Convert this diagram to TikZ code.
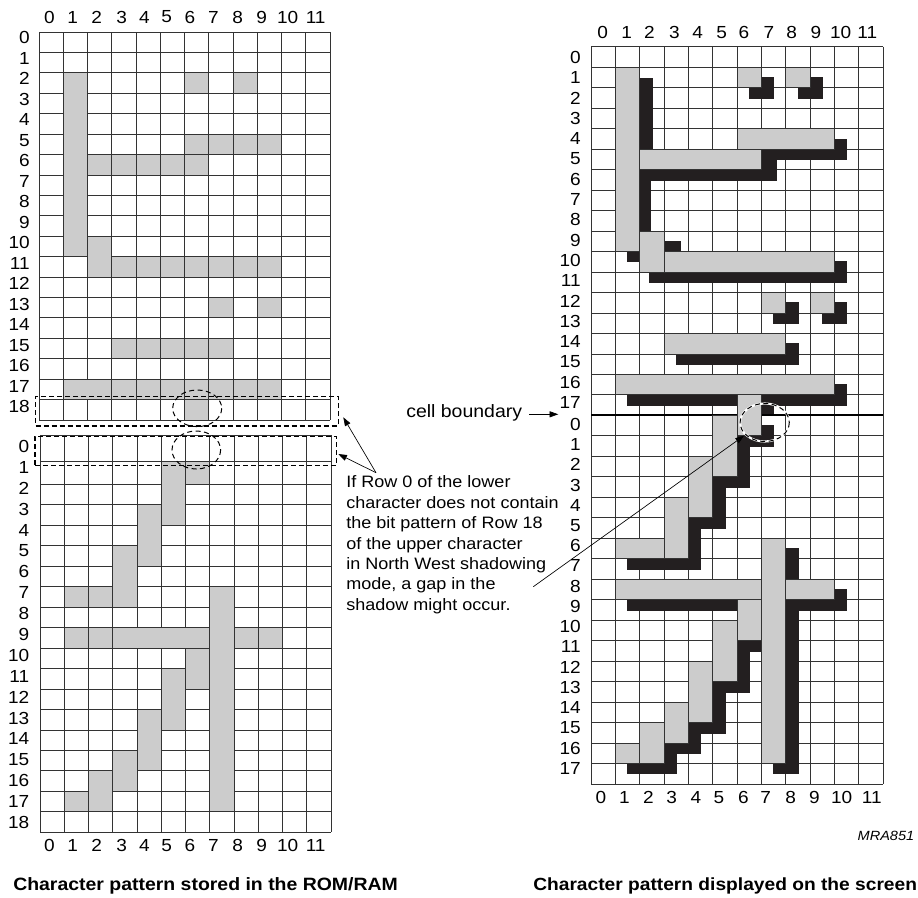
\documentclass[tikz,border=0pt]{standalone}
\usepackage{fontspec}
\setmainfont[FakeStretch=1.09]{Liberation Sans}
\usepackage{xcolor}
\usetikzlibrary{arrows.meta}
\definecolor{litgrey}{HTML}{CCCCCC}
\definecolor{shadowblack}{HTML}{231F20}
\definecolor{gridgrey}{HTML}{333333}

\begin{document}
\begin{tikzpicture}[
    x=0.75pt, y=-0.75pt,
    gridline/.style={draw=gridgrey, line width=0.6pt},
    lit/.style={fill=litgrey, draw=gridgrey, line width=0.6pt},
    shadow/.style={fill=shadowblack, draw=shadowblack, line width=0.4pt},
    rowlabel/.style={anchor=east, inner sep=0pt, font=\fontsize{13.1}{15}\selectfont},
    collabel/.style={inner sep=0pt, font=\fontsize{13.1}{15}\selectfont},
    note/.style={inner sep=0pt, align=left, font=\fontsize{12.4}{15.3}\selectfont},
    caption/.style={anchor=base west, inner sep=0pt, font=\fontsize{13.38}{15}\selectfont\bfseries},
    rowbox/.style={draw, dash pattern=on 3.75pt off 2.25pt, line width=0.9pt, inner sep=0pt, anchor=north west},
    ring/.style={draw, dash pattern=on 3.75pt off 2.6pt, line width=0.75pt},
    arrow/.style={-{Triangle[length=6.5pt,width=4.5pt]}, line width=0.5pt}
]
\useasboundingbox (0,0) rectangle (918,897);

% stored pattern, upper character
\begin{scope}[shift={(39,32)}, x=18.19pt, y=-15.315pt]
\foreach \r in {0,...,19} \draw[gridline] (0,\r) -- (12,\r);
\foreach \c in {0,...,12} \draw[gridline] (\c,0) -- (\c,19);
\foreach \xa/\ya/\xb/\yb in {1/2/2/11, 6/2/7/3, 8/2/9/3, 6/5/7/6, 7/5/8/6, 8/5/9/6, 9/5/10/6,
    2/6/3/7, 3/6/4/7, 4/6/5/7, 5/6/6/7, 6/6/7/7, 2/10/3/12, 3/11/4/12, 4/11/5/12, 5/11/6/12,
    6/11/7/12, 7/11/8/12, 8/11/9/12, 9/11/10/12, 7/13/8/14, 9/13/10/14, 3/15/4/16, 4/15/5/16,
    5/15/6/16, 6/15/7/16, 7/15/8/16, 1/17/3/18, 3/17/4/18, 4/17/5/18, 5/17/6/18, 6/17/7/18,
    7/17/8/18, 8/17/9/18, 9/17/10/18, 6/18/7/19}
    \draw[lit] (\xa,\ya) rectangle (\xb,\yb);
\end{scope}

% stored pattern, lower character
\begin{scope}[shift={(40,443.36)}, x=18.19pt, y=-15.35pt]
\foreach \r in {-0.41,0.9,2,3,...,19} \draw[gridline] (0,\r) -- (12,\r);
\foreach \c in {0,...,12} \draw[gridline] (\c,-0.41) -- (\c,19);
\foreach \xa/\ya/\xb/\yb in {5/0.9/6/4, 6/0.9/7/2, 4/3/5/6, 3/5/4/8, 1/7/2/8, 2/7/3/8, 7/7/8/18,
    1/9/2/10, 2/9/3/10, 3/9/7/10, 8/9/9/10, 9/9/10/10, 6/10/7/12, 5/11/6/14, 4/13/5/16,
    3/15/4/17, 2/16/3/18, 1/17/2/18}
    \draw[lit] (\xa,\ya) rectangle (\xb,\yb);
\end{scope}

% displayed pattern, rows run on through both characters
\begin{scope}[shift={(591,46.7)}, x=18.25pt, y=-15.36pt]
\foreach \r in {0,...,36} \draw[gridline] (0,\r) -- (12,\r);
\foreach \c in {0,...,12} \draw[gridline] (\c,0) -- (\c,36);
\foreach \xa/\ya/\xb/\yb in {2/1.55/2.5/5, 2/6.5/2.45/9, 2/6/7/6.5, 7/5/7.6/6.5, 7/5/10.5/5.5,
    10/4.5/10.5/5.5, 7/1.5/7.5/2.5, 6.5/2/7/2.5, 9/1.5/9.5/2.5, 8.5/2/9/2.5, 3/9.5/3.65/10,
    1.5/10/2/10.5, 10/10.5/10.5/11.5, 2.4/11/10.5/11.5, 8/12.5/8.5/13.5, 7.5/13/8/13.5,
    10/12.5/10.5/13.5, 9.5/13/10/13.5, 8/14.5/8.5/15.5, 3.5/15/8.5/15.5, 10/16.5/10.5/17.5,
    1.5/17/6/17.5, 7/17/10.5/17.5, 7/17.5/7.5/18, 7/18.5/7.5/19.5, 6/19/7.5/19.5, 6/19/6.5/21.5,
    5/21/6.5/21.5, 5/21.5/5.5/23.5, 4/23/5.5/23.5, 4/23.5/4.5/25.5, 1.5/25/4.5/25.5,
    8/24.5/8.5/26, 1.5/27/6/27.5, 8/27/10.5/27.5, 10/26.5/10.5/27.5, 8/27.5/8.5/35.5,
    7.5/35/8/35.5, 6/29/7/29.5, 6/29.5/6.5/31.5, 5/31/6.5/31.5, 5/31.5/5.5/33.5, 4/33/5.5/33.5,
    4/33.5/4.5/34.5, 3/34/4.5/34.5, 3/34.5/3.5/35.5, 1.5/35/3.5/35.5}
    \draw[shadow] (\xa,\ya) rectangle (\xb,\yb);
\draw[line width=1.3pt] (0,18) -- (6,18) (7,18) -- (12,18);
\foreach \xa/\ya/\xb/\yb in {1/1/2/10, 6/1/7/2, 8/1/9/2, 6/4/10/5, 2/5/7/6, 2/9/3/11, 3/10/10/11,
    7/12/8/13, 9/12/10/13, 3/14/8/15, 1/16/10/17, 6/17/7/19, 5/18/6/21, 4/20/5/23, 3/22/4/25,
    1/24/3/25, 7/24/8/35, 1/26/7/27, 8/26/10/27, 6/27/7/29, 5/28/6/31, 4/30/5/33, 3/32/4/34,
    2/33/3/35, 1/34/2/35}
    \draw[lit] (\xa,\ya) rectangle (\xb,\yb);
\end{scope}

\foreach \i in {0,...,18} {
    \node[rowlabel] (upperrow\i) at (30,37.7+20.5*\i) {\i};
    \node[rowlabel] (lowerrow\i) at (29.5,446.7+20.87*\i) {\i};
}
\foreach \i in {0,...,17} {
    \node[rowlabel] (screenrow\i) at (581,57.3+20.3*\i) {\i};
    \node[rowlabel] (screenlow\i) at (581,424.3+20.24*\i) {\i};
}
\foreach \i/\x in {0/49.3,1/72.7,2/96.7,3/121.7,4/144.3,5/166.7,6/190,7/213.3,8/237.7,9/261.7,10/287.7,11/315.7} {
    \node[collabel] (uppercol\i) at (\x,17) {\i};
    \node[collabel] (lowercol\i) at (\x,845.7) {\i};
}
\foreach \i/\x in {0/602.7,1/626.7,2/649.3,3/674.3,4/697.7,5/721.7,6/744,7/769,8/791.7,9/816,10/840.7,11/867.3}
    \node[collabel] (screentop\i) at (\x,32.7) {\i};
\foreach \i/\x in {0/601,1/624.3,2/648.3,3/671.7,4/696,5/719,6/743.3,7/765.7,8/790.7,9/814.3,10/841.7,11/871.7}
    \node[collabel] (screenbot\i) at (\x,797.7) {\i};

\node[rowbox, minimum width=226.9pt, minimum height=22pt] (upperbox) at (35,396) {};
\node[rowbox, minimum width=226pt, minimum height=22pt] (lowerbox) at (34.3,435.7) {};
\draw[ring] (197.2,408.3) ellipse (24.5 and 18.3);
\draw[ring] (196.3,450) ellipse (24.3 and 19);
\draw[white, line width=1.6pt] (764.7,422.5) ellipse (24.6 and 19);
\draw[ring] (764.7,422.5) ellipse (24.6 and 19);

\node[note, anchor=north west] (remark) at (346,475.6) {If Row 0 of the lower\\character does not contain\\the bit pattern of Row 18\\of the upper character\\in North West shadowing\\mode, a gap in the\\shadow might occur.};
\node[anchor=west, inner sep=0pt, font=\fontsize{13.4}{15}\selectfont] (cellboundary) at (406,412.7) {cell boundary};
\node[caption] (storedcaption) at (13,890) {Character pattern stored in the ROM/RAM};
\node[caption, font=\fontsize{13.2}{15}\selectfont\bfseries] (screencaption) at (533,890) {Character pattern displayed on the screen};
\node[anchor=east, inner sep=0pt, font=\fontsize{10}{12}\selectfont\itshape] (drawingcode) at (914.5,836) {MRA851};

\coordinate (remarktip) at (376,472.7);
\coordinate (uppertip) at (343.3,417.3);
\coordinate (lowertip) at (338.3,454);
\coordinate (boundarytail) at (529.3,414.3);
\coordinate (boundarytip) at (558.3,414.3);
\coordinate (gaptail) at (533.3,586.7);
\coordinate (gaptip) at (744,435.7);

\draw[arrow] (remarktip) -- (uppertip);
\draw[arrow] (remarktip) -- (lowertip);
\draw[arrow] (boundarytail) -- (boundarytip);
\draw[arrow] (gaptail) -- (gaptip);
\end{tikzpicture}
\end{document}
